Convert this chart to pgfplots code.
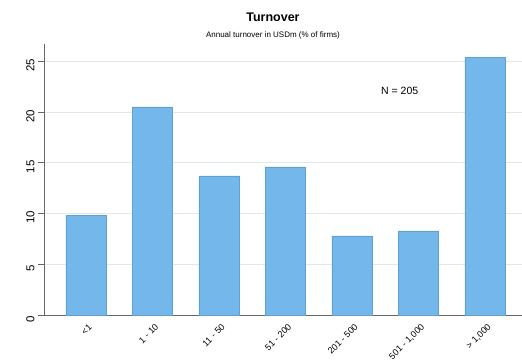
\documentclass[border=0pt]{standalone}
\usepackage{pgfplots}
\pgfplotsset{compat=1.18}
\usepackage{fontspec}
\setmainfont{Liberation Sans}
\definecolor{barblue}{RGB}{115,183,235}
\definecolor{baredge}{RGB}{95,160,210}
\definecolor{gridgray}{RGB}{225,232,236}
\begin{document}
\begin{tikzpicture}
\begin{axis}[
at={(0pt,0pt)}, anchor=south west,
scale only axis,
width=478pt, height=271pt,
ybar,
bar width=40pt,
xmin=-0.63, xmax=6.56,
ymin=0, ymax=26.7,
clip=false,
axis x line*=bottom,
axis y line*=left,
axis line style={draw=gray!80!black, line width=0.6pt},
ytick={0,5,10,15,20,25},
ymajorgrids,
major grid style={draw=gridgray, line width=0.6pt},
xtick=data,
xticklabels={<1, 1 - 10, 11 - 50, 51 - 200, 201 - 500, 501 - 1{,}000, > 1{,}000},
x tick label style={rotate=45, anchor=north east, font=\fontsize{9}{10}\selectfont, inner sep=1pt, xshift=1pt, yshift=-2pt},
y tick label style={rotate=90, anchor=south, font=\fontsize{11.5}{12}\selectfont, xshift=-4pt},
yticklabel style={/pgf/number format/assume math mode=true},
tick style={draw=gray!80!black, line width=0.6pt},
tick align=outside,
major tick length=6pt,
xtick style={draw=none},
]
\addplot[fill=barblue, draw=baredge, line width=0.4pt] coordinates {
(0,9.8) (1,20.5) (2,13.7) (3,14.6) (4,7.8) (5,8.3) (6,25.4)};
\node[font=\fontsize{10.5}{12}\selectfont] at (axis cs:4.72,22.1) {N = 205};
\node[font=\bfseries\fontsize{12.5}{14}\selectfont] at (rel axis cs:0.479,1.0996) {Turnover};
\node[font=\fontsize{8}{9}\selectfont] at (rel axis cs:0.479,1.033) {Annual turnover in USDm (\% of firms)};
\end{axis}
\pgfresetboundingbox
\useasboundingbox (-44pt,-45pt) rectangle (478pt,315pt);
\end{tikzpicture}
\end{document}
